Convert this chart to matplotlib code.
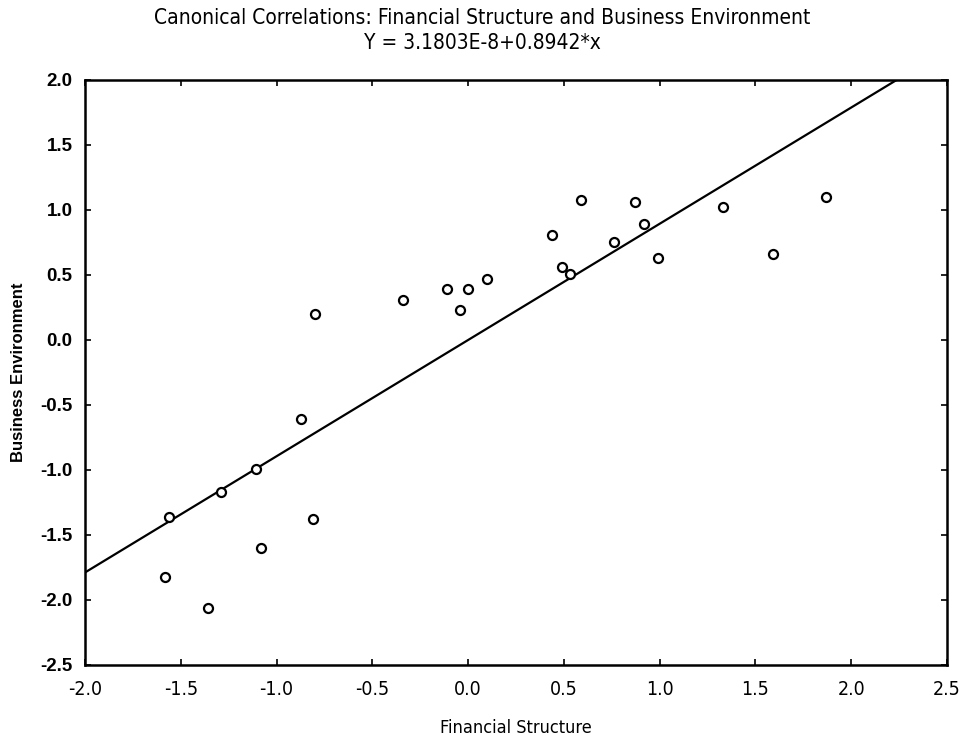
import numpy as np
import matplotlib
matplotlib.use("Agg")
from matplotlib import pyplot as plt

# scores
financial = [-0.80, -0.87, -1.11, -1.29, -1.56, -0.81, -1.08, -1.58, -1.36,
             -0.34, -0.11, 0.00, -0.04, 0.10, 0.44, 0.59, 0.49, 0.53,
             0.76, 0.87, 0.92, 0.99, 1.33, 1.87, 1.59]
business = [0.20, -0.61, -0.99, -1.17, -1.36, -1.38, -1.60, -1.82, -2.06,
            0.31, 0.39, 0.39, 0.23, 0.47, 0.81, 1.08, 0.56, 0.51,
            0.75, 1.06, 0.89, 0.63, 1.02, 1.10, 0.66]
intercept = 3.1803e-8
slope = 0.8942

xticks = [-2.0, -1.5, -1.0, -0.5, 0.0, 0.5, 1.0, 1.5, 2.0, 2.5]
yticks = [-2.5, -2.0, -1.5, -1.0, -0.5, 0.0, 0.5, 1.0, 1.5, 2.0]

plt.rcParams['font.family'] = ['Liberation Sans', 'DejaVu Sans']
narrow = dict(family='DejaVu Sans', stretch='condensed')

fig = plt.figure(figsize=(9.64, 7.40), dpi=100)
ax = fig.add_axes([0.0882, 0.1014, 0.8942, 0.7905])

ax.plot(financial, business, 'o', mfc='white', mec='black', ms=6.5, mew=1.6, zorder=3)

lx = np.array([-2.0, 2.5])
ax.plot(lx, intercept + slope * lx, color='black', lw=1.6, zorder=2)

ax.set_xlim(-2.0, 2.5)
ax.set_ylim(-2.5, 2.0)
ax.set_xticks(xticks)
ax.set_yticks(yticks)
ax.set_xticklabels([f"{t:.1f}" for t in xticks], fontsize=14, **narrow)
ax.set_yticklabels([f"{t:.1f}" for t in yticks], fontsize=13.5, fontweight='bold')
ax.tick_params(direction='in', length=4, width=1.2, top=True, right=True,
               labeltop=False, labelright=False)
ax.tick_params(axis='x', pad=11)
ax.tick_params(axis='y', pad=9)
for s in ax.spines.values():
    s.set_linewidth(1.8)

ax.set_xlabel("Financial Structure", fontsize=13, labelpad=14, **narrow)
ax.set_ylabel("Business Environment", fontsize=12, fontweight='bold', labelpad=10)

fig.text(0.5, 0.975, "Canonical Correlations: Financial Structure and Business Environment",
         ha='center', va='center', fontsize=15, **narrow)
fig.text(0.5, 0.942, "Y = 3.1803E-8+0.8942*x", ha='center', va='center', fontsize=15,
         **narrow)

fig.savefig("out.png", dpi=100)
